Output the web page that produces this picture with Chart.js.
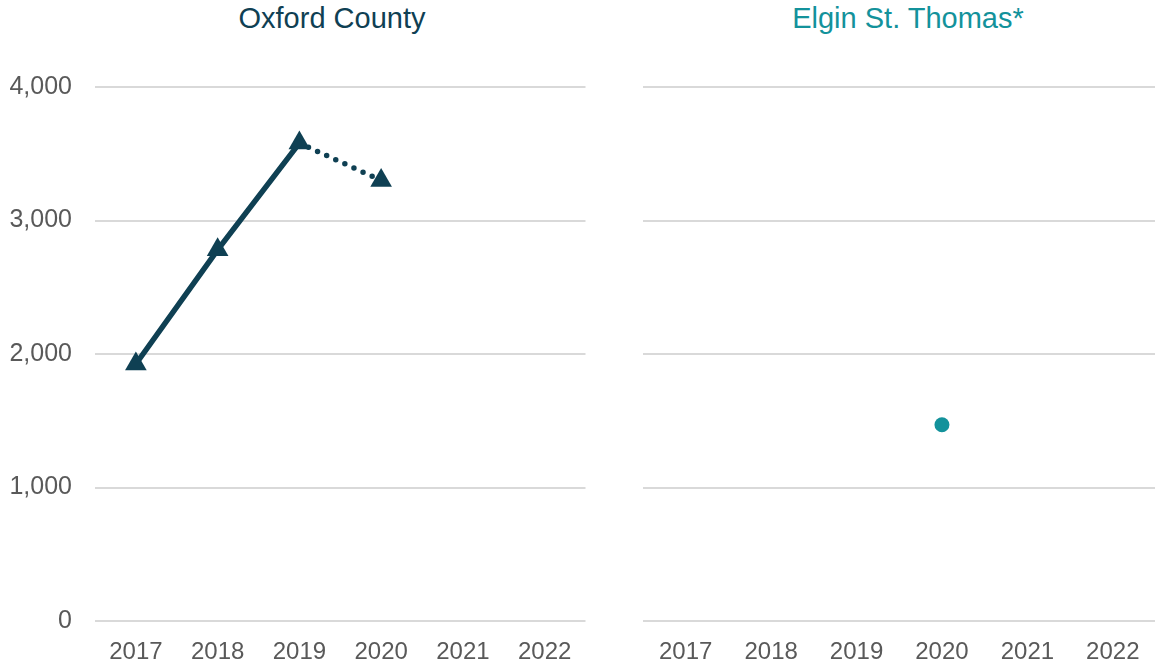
<!DOCTYPE html>
<html>
<head>
  <meta charset="UTF-8">
  <title>Oxford County / Elgin St. Thomas</title>
  <script src="https://cdn.jsdelivr.net/npm/chart.js"></script>
  <style>
    body { margin: 0; background: #fff; width: 1155px; height: 664px; position: relative; overflow: hidden; font-family: 'Liberation Sans', Arial, sans-serif; }
    .title { position: absolute; top: 0; font-size: 29px; line-height: 36px; text-align: center; white-space: nowrap; }
    #leftTitle { left: 95px; width: 474px; color: #0f4053; }
    #rightTitle { left: 643px; width: 530px; color: #13929b; }
    .box { position: absolute; top: 0; height: 664px; }
    #leftBox { left: 0; width: 598px; }
    #rightBox { left: 600px; width: 563px; }
  </style>
  <script>
    var years = ['2017', '2018', '2019', '2020', '2021', '2022'];
    var oxfordValues = [1925, 2780, 3580, 3300, null, null];
    var elginValues = [null, null, null, 1470, null, null];
    var yTicks = [0, 1000, 2000, 3000, 4000];

    var darkTeal = '#0f4053';
    var teal = '#13929b';
    var tickColor = '#595959';
    var gridColor = '#d9d9d9';
  </script>
</head>
<body>
  <div class="title" id="leftTitle">Oxford County</div>
  <div class="title" id="rightTitle">Elgin St. Thomas*</div>
  <div class="box" id="leftBox"><canvas id="oxfordChart"></canvas></div>
  <div class="box" id="rightBox"><canvas id="elginChart"></canvas></div>

  <script>
    Chart.defaults.font.family = "'Liberation Sans', Arial, sans-serif";
    Chart.defaults.animation = false;

    function makeOptions(showYLabels, yWidth) {
      return {
        responsive: true,
        maintainAspectRatio: false,
        layout: { padding: { top: 87, left: 0, right: 0, bottom: 0 } },
        plugins: { legend: { display: false }, tooltip: { enabled: false } },
        scales: {
          x: {
            offset: true,
            grid: { display: false },
            border: { display: false },
            ticks: { color: tickColor, font: { size: 24 }, padding: 9, maxRotation: 0 },
            afterFit: function (scale) { scale.height = 43; }
          },
          y: {
            min: 0,
            max: 4000,
            afterBuildTicks: function (scale) {
              scale.ticks = yTicks.map(function (v) { return { value: v }; });
            },
            grid: { color: gridColor, lineWidth: 2, drawTicks: false },
            border: { display: false },
            ticks: {
              display: showYLabels,
              color: tickColor,
              font: { size: 25 },
              padding: 23,
              callback: function (v) { return v.toLocaleString('en-US'); }
            },
            afterFit: function (scale) { scale.width = yWidth; }
          }
        }
      };
    }

    new Chart(document.getElementById('oxfordChart').getContext('2d'), {
      type: 'line',
      data: {
        labels: years,
        datasets: [{
          label: 'Oxford County',
          data: oxfordValues,
          borderColor: darkTeal,
          backgroundColor: darkTeal,
          borderWidth: 5.5,
          pointStyle: 'triangle',
          pointRadius: 12.5,
          pointBorderWidth: 0,
          spanGaps: false,
          segment: {
            borderDash: function (ctx) { return ctx.p0DataIndex === 2 ? [0, 10] : undefined; },
            borderCapStyle: function (ctx) { return ctx.p0DataIndex === 2 ? 'round' : 'butt'; }
          }
        }]
      },
      options: makeOptions(true, 95)
    });

    new Chart(document.getElementById('elginChart').getContext('2d'), {
      type: 'line',
      data: {
        labels: years,
        datasets: [{
          label: 'Elgin St. Thomas*',
          data: elginValues,
          borderColor: teal,
          backgroundColor: teal,
          borderWidth: 5,
          pointStyle: 'circle',
          pointRadius: 7.5,
          pointBorderWidth: 0
        }]
      },
      options: makeOptions(false, 43)
    });
  </script>
</body>
</html>
